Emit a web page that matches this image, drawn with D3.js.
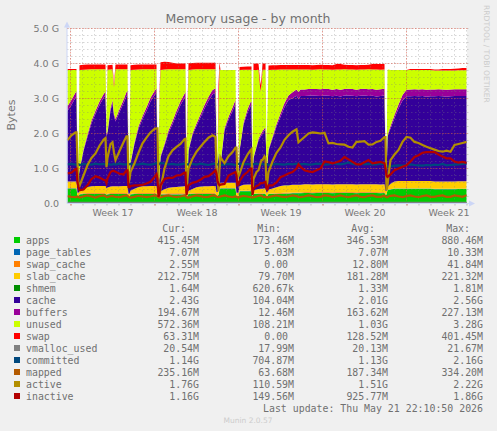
<!DOCTYPE html>
<html>
<head>
<meta charset="utf-8">
<title>Memory usage - by month</title>
<script src="https://cdn.jsdelivr.net/npm/d3@7"></script>
<style>
  html, body { margin: 0; padding: 0; background: #f0f0f0; }
  svg { display: block; }
  text { white-space: pre; }
</style>
</head>
<body>
<div id="chart"></div>
<script>
// hours since the start of week 17, one line per stretch between reboots
var sampleHours = [
  -6,2,10,12,
  14,16,
  18,26,34,42,50,58,66,70,
  72,
  74,80,84,87,90,98,106,112,114,
  116,118,
  120,128,136,144,152,160,168,172,
  174,176,178,
  180,188,196,204,212,220,228,230,
  232,234,
  236,244,252,260,268,276,284,290,
  292,294,296,298,
  300,308,316,324,330,
  332,334,336,
  338,346,354,360,362,
  364,
  366,372,376,380,382,384,388,390,
  392,394,
  396,404,412,420,428,436,444,452,456,460,
  468,476,484,492,500,508,516,524,532,540,548,556,564,572,580,588,596,604,612,620,628,
  630,632,
  634,636,640,648,656,664,672,
  680,688,696,704,712,720,728,736,744,752,760,768,776,784,792
];

// all values in M
var apps = [
  430,430,430,430,
  200,200,
  260,270,270,270,270,270,270,270,
  240,
  260,270,270,270,270,270,270,270,270,
  180,180,
  260,270,270,270,270,270,270,270,
  200,200,250,
  260,260,260,260,260,260,260,260,
  150,220,
  270,270,270,270,270,270,270,270,
  200,200,250,400,
  430,430,430,430,430,
  200,200,200,
  350,350,350,350,350,
  200,
  270,270,270,270,270,270,270,270,
  200,220,
  270,270,270,270,280,280,290,290,290,290,
  300,300,295,300,305,300,300,295,300,300,305,300,300,295,300,300,305,300,300,295,300,
  250,250,
  380,390,400,420,420,420,420,
  420,420,420,420,420,420,410,410,410,410,410,410,415,415,415
];
var pageTables = [
  7,7,7,7,
  6,6,
  6,6,7,7,7,7,7,7,
  6,
  7,7,7,7,7,7,7,7,7,
  6,6,
  6,6,7,7,7,7,7,7,
  6,5,5,
  6,6,7,7,7,7,7,7,
  5,6,
  6,6,7,7,7,7,7,7,
  6,6,6,7,
  8,8,8,8,8,
  6,5,6,
  7,7,7,7,7,
  5,
  6,6,6,7,7,7,7,7,
  6,6,
  7,7,7,7,7,7,7,7,7,7,
  7,7,7,7,7,7,7,7,7,7,7,7,7,7,7,7,7,7,7,7,7,
  6,6,
  7,7,7,7,7,7,7,
  7,7,7,7,7,7,7,7,7,7,7,7,7,7,7
];
var swapCache = [
  3,3,3,3,
  0,0,
  5,15,20,25,25,25,25,25,
  0,
  10,20,25,25,25,25,25,25,25,
  0,0,
  5,15,20,25,25,25,25,25,
  0,0,5,
  10,20,25,25,25,25,25,25,
  0,5,
  10,20,25,25,25,25,25,25,
  0,0,5,5,
  3,3,3,3,3,
  0,0,0,
  5,10,15,15,15,
  0,
  5,10,15,15,15,15,15,15,
  0,0,
  5,10,15,20,20,20,20,20,20,20,
  20,20,20,20,20,20,20,20,20,20,20,20,20,20,20,20,20,20,20,20,20,
  0,0,
  3,3,3,3,3,3,3,
  3,3,3,3,3,3,3,3,3,3,3,3,3,3,3
];
var slabCache = [
  190,190,190,190,
  100,100,
  80,130,170,190,200,200,200,200,
  180,
  180,190,190,190,190,190,200,200,200,
  90,90,
  90,130,170,190,190,200,200,200,
  100,80,90,
  70,120,160,170,180,190,200,200,
  80,80,
  80,120,160,180,190,190,200,200,
  120,120,120,100,
  150,150,150,150,150,
  100,100,100,
  130,170,170,170,170,
  90,
  90,110,120,130,130,130,140,140,
  100,100,
  110,140,170,200,210,210,220,220,220,220,
  220,220,220,220,220,220,220,220,220,220,220,220,220,220,220,220,220,220,220,220,220,
  100,100,
  100,100,150,200,210,210,210,
  210,210,210,210,210,210,210,210,210,210,210,210,212,212,212
];
var shmem = [
  1,1,1,1,
  1,1,
  1,1,1,1,1,1,1,1,
  1,
  1,1,1,1,1,1,1,1,1,
  1,1,
  1,1,1,1,1,1,1,1,
  1,1,1,
  1,1,1,1,1,1,1,1,
  1,1,
  1,1,1,1,1,1,1,1,
  1,1,1,1,
  1,1,1,1,1,
  1,1,1,
  1,1,1,1,1,
  1,
  1,1,1,1,1,1,1,1,
  1,1,
  1,1,1,1,1,1,1,1,1,1,
  1,1,1,1,1,1,1,1,1,1,1,1,1,1,1,1,1,1,1,1,1,
  1,1,
  1,1,1,1,1,1,1,
  2,2,2,2,2,2,2,2,2,2,2,2,2,2,2
];
var cache = [
  2020,2190,2390,2410,
  500,400,
  590,1080,1440,1800,2060,2310,2510,2590,
  1500,
  1540,2170,2370,2000,1850,2120,2360,2560,2590,
  500,400,
  780,1280,1670,1920,2160,2410,2590,2660,
  800,300,400,
  970,1240,1560,1800,2080,2330,2520,2570,
  300,300,
  1130,1540,1750,1980,2220,2440,2610,2660,
  1200,500,1100,400,
  500,1500,1800,2050,2250,
  700,300,300,
  1000,1710,2060,2240,2260,
  300,
  920,1200,1390,1480,1530,1580,1650,1670,
  800,800,
  1120,1420,1740,1980,2240,2440,2470,2540,2450,2530,
  2520,2530,2540,2530,2520,2540,2530,2520,2530,2510,2530,2540,2530,2520,2530,2540,2520,2530,2510,2530,2540,
  800,300,
  1400,1500,1580,1810,2070,2300,2420,
  2420,2430,2420,2430,2410,2420,2430,2440,2430,2420,2430,2440,2430,2430,2430
];
var buffers = [
  130,140,150,150,
  30,20,
  20,40,60,80,90,100,110,110,
  60,
  60,80,90,70,70,80,100,120,120,
  30,30,
  30,50,70,80,100,110,120,120,
  40,20,30,
  30,50,70,90,100,110,120,120,
  20,30,
  30,50,70,90,100,120,130,130,
  60,40,30,30,
  30,60,80,100,120,
  40,20,20,
  30,60,90,110,110,
  20,
  20,40,50,60,60,60,70,70,
  40,30,
  30,50,70,90,110,130,170,180,200,190,
  190,190,190,190,190,190,190,190,190,190,190,190,190,190,190,190,190,190,190,190,190,
  50,20,
  30,40,70,90,120,160,190,
  195,195,195,195,195,195,195,195,195,195,195,195,195,195,195
];
var unused = [
  1030,850,640,620,
  400,300,
  2850,2280,1860,1460,1180,920,710,630,
  300,
  1760,1090,880,750,1420,1140,870,650,620,
  500,400,
  2640,2070,1620,1340,1080,810,620,550,
  300,300,2200,
  2470,2130,1750,1480,1180,910,700,650,
  600,1800,
  2290,1820,1550,1280,1020,780,590,540,
  500,400,1200,2890,
  2690,1660,1340,1070,850,
  300,300,400,
  2290,1510,1130,930,910,
  400,
  2500,2180,1970,1240,1390,1760,1670,1650,
  500,1500,
  2270,1920,1550,1260,960,740,650,570,640,570,
  570,560,550,560,570,550,560,570,560,580,560,550,560,570,560,550,570,560,580,560,550,
  400,400,
  1890,1790,1600,1280,980,710,560,
  555,545,555,545,565,555,545,535,545,555,545,535,545,545,545
];
var swap = [
  30,30,30,30,
  0,0,
  140,140,140,140,140,140,140,140,
  0,
  130,130,130,100,140,140,140,140,140,
  0,0,
  140,140,140,140,140,140,140,140,
  0,0,200,
  220,220,210,190,170,170,170,170,
  100,300,
  190,190,190,190,190,190,190,190,
  0,0,700,200,
  0,0,0,0,0,
  0,0,0,
  90,90,90,90,90,
  0,
  180,180,180,180,200,180,180,180,
  0,0,
  130,130,130,130,130,130,130,130,130,130,
  130,130,130,130,130,130,130,130,160,160,130,130,130,130,130,130,130,160,160,160,160,
  0,0,
  0,0,0,0,0,0,0,
  30,30,30,30,30,30,30,30,40,40,40,50,50,60,63
];
var vmallocUsed = [
  20,20,20,20,
  20,20,
  20,20,20,20,20,20,20,20,
  20,
  20,20,20,20,20,20,20,20,20,
  20,20,
  20,20,20,20,20,20,20,20,
  20,20,20,
  20,20,20,20,20,20,20,20,
  20,20,
  20,20,20,20,20,20,20,20,
  20,20,20,20,
  20,20,20,20,20,
  20,20,20,
  20,20,20,20,20,
  20,
  20,20,20,20,20,20,20,20,
  20,20,
  20,20,20,20,20,20,20,20,20,20,
  20,20,20,20,20,20,20,20,20,20,20,20,20,20,20,20,20,20,20,20,20,
  20,20,
  20,20,20,20,20,20,20,
  20,20,20,20,20,20,20,20,20,20,20,20,20,20,20
];
var committed = [
  1120,1130,1110,1120,
  1110,1120,
  1100,1130,1120,1110,1140,1120,1130,1110,
  1120,
  1130,1110,1120,1130,1110,1140,1120,1120,1130,
  1110,1120,
  1130,1110,1120,1140,1120,1110,1130,1150,
  1170,1130,1120,
  1160,1140,1120,1130,1110,1120,1140,1150,
  1130,1120,
  1120,1130,1110,1140,1120,1100,1130,1140,
  1120,1110,1130,1120,
  1100,1110,1130,1120,1100,
  1110,1120,1130,
  1140,1120,1130,1110,1120,
  1130,
  1120,1140,1130,1110,1120,1130,1110,1120,
  1130,1120,
  1100,1110,1130,1120,1110,1130,1120,1140,1130,1120,
  1130,1110,1120,1140,1130,1110,1120,1150,1130,1120,1140,1170,1130,1110,1140,1120,1130,1110,1120,1140,1130,
  1100,1080,
  1060,1050,1060,1080,1090,1080,1100,
  1120,1100,1090,1080,1100,1090,1110,1100,1130,1090,1100,1110,1120,1130,1140
];
var mapped = [
  210,190,180,190,
  200,190,
  170,200,230,200,170,210,230,200,
  190,
  180,210,220,200,190,180,210,230,220,
  190,180,
  170,190,220,200,180,200,230,220,
  200,180,170,
  180,210,230,200,180,200,230,210,
  190,170,
  170,200,230,210,180,190,230,220,
  200,190,180,190,
  200,230,200,180,210,
  190,180,170,
  190,220,200,180,190,
  170,
  180,200,220,230,220,200,180,190,
  190,170,
  180,210,230,200,180,200,230,210,190,180,
  200,230,210,180,190,230,220,180,200,230,200,180,210,230,190,180,220,230,190,190,220,
  200,180,
  180,200,220,230,200,180,210,
  230,200,180,210,230,190,190,220,230,190,190,230,210,190,235
];
var active = [
  1810,1950,2030,2030,
  1200,520,
  500,800,1100,1300,1430,1650,1820,1870,
  1040,
  1300,1700,1750,1450,1240,1500,1750,1920,1920,
  580,700,
  900,1150,1450,1720,1880,2030,2130,2150,
  2150,550,180,
  430,1000,1350,1520,1620,1700,1840,1850,
  300,700,
  1000,1280,1480,1620,1760,1880,1950,1900,
  950,750,350,1000,
  1320,1150,1350,1470,1600,
  1600,750,780,
  850,1180,1400,1520,1550,
  300,
  700,900,950,1150,1240,1240,1350,1300,
  470,650,
  900,1200,1450,1600,1820,1950,2050,2120,1750,1800,
  1900,2000,2030,2020,2000,2020,1720,1730,1700,1690,1680,1620,1600,1760,1770,1780,1680,1690,1760,1790,1900,
  1900,380,
  500,800,1240,1400,1530,1760,1900,
  1880,1760,1730,1670,1620,1580,1540,1500,1480,1510,1480,1670,1700,1730,1760
];
var inactive = [
  860,880,980,990,
  600,470,
  380,400,520,700,780,740,680,660,
  580,
  720,900,930,930,910,850,830,950,950,
  470,470,
  500,520,520,530,570,620,760,840,
  700,190,300,
  520,700,730,730,800,810,880,880,
  240,400,
  520,590,620,680,760,780,870,950,
  850,650,560,520,
  540,560,800,860,900,
  800,520,540,
  640,810,900,1000,1000,
  240,
  420,500,520,580,580,580,610,620,
  420,400,
  520,520,600,750,800,860,900,1000,1120,1050,
  950,920,900,950,1000,1200,1180,1150,1180,1220,1330,1260,1190,1120,1120,1180,1240,1150,1170,1190,1150,
  1000,800,
  760,780,830,950,1000,1050,1090,
  1200,1330,1380,1450,1470,1470,1470,1400,1340,1290,1290,1200,1170,1190,1160
];

var seriesNames = ['apps','page_tables','swap_cache','slab_cache','shmem','cache','buffers','unused','swap','vmalloc_used','committed','mapped','active','inactive'];
var seriesColors = ['#00CC00','#0066B3','#FF8000','#FFCC00','#008F00','#330099','#990099','#CCFF00','#FF0000','#808080','#00487D','#B35A00','#B38F00','#B30000'];
var curLabels = ['415.45M','7.07M','2.55M','212.75M','1.64M','2.43G','194.67M','572.36M','63.31M','20.54M','1.14G','235.16M','1.76G','1.16G'];
var minLabels = ['173.46M','5.03M','0.00 ','79.70M','620.67k','104.04M','12.46M','108.21M','0.00 ','17.99M','704.87M','63.68M','110.59M','149.56M'];
var avgLabels = ['346.53M','7.07M','12.80M','181.28M','1.33M','2.01G','163.62M','1.03G','128.52M','20.13M','1.13G','187.34M','1.51G','925.77M'];
var maxLabels = ['880.46M','10.33M','41.84M','221.32M','1.81M','2.56G','227.13M','3.28G','401.45M','21.67M','2.16G','334.20M','2.22G','1.86G'];

var areaSeries = [apps, pageTables, swapCache, slabCache, shmem, cache, buffers, unused, swap];
var lineSeries = [vmallocUsed, committed, mapped, active, inactive];

var yTicks = [0, 1000, 2000, 3000, 4000, 5000];
var yTickLabels = ['0.0', '1.0 G', '2.0 G', '3.0 G', '4.0 G', '5.0 G'];
var yMinorTicks = d3.range(0, 5001, 200);
var dayTicks = d3.range(0, 793, 24);
var weekTicks = [0, 168, 336, 504, 672];
var weekCentres = [84, 252, 420, 588, 756];
var weekLabels = ['Week 17', 'Week 18', 'Week 19', 'Week 20', 'Week 21'];

var width = 497, height = 431;
var svg = d3.select('#chart').append('svg')
  .attr('width', width)
  .attr('height', height)
  .style('font-family', '"DejaVu Sans", sans-serif');

var x = d3.scaleLinear().domain([-7, 793]).range([67, 467]);
var y = d3.scaleLinear().domain([0, 5000]).range([203.5, 28.5]);

svg.append('rect')
  .attr('x', x.range()[0]).attr('y', y.range()[1])
  .attr('width', x.range()[1] - x.range()[0])
  .attr('height', y.range()[0] - y.range()[1])
  .attr('fill', '#fff');

// stacked areas
var keys = d3.range(areaSeries.length);
var rows = sampleHours.map(function(h, i) {
  var row = { hour: h };
  keys.forEach(function(k) { row[k] = areaSeries[k][i]; });
  return row;
});
var layers = d3.stack().keys(keys)(rows);
var area = d3.area()
  .x(d => x(d.data.hour))
  .y0(d => y(d[0]))
  .y1(d => y(d[1]));

svg.append('g').selectAll('path')
  .data(layers)
  .enter().append('path')
  .attr('d', area)
  .attr('fill', d => seriesColors[d.key]);

// grid sits on top of the areas, the dots show through in the reference
var grid = svg.append('g').attr('fill', 'none');
grid.selectAll('.minor-y').data(yMinorTicks)
  .enter().append('line')
  .attr('x1', x.range()[0]).attr('x2', x.range()[1] + 2)
  .attr('y1', d => y(d)).attr('y2', d => y(d))
  .attr('stroke', 'rgba(128,128,128,0.32)')
  .attr('stroke-dasharray', '1.5,2.5');
grid.selectAll('.minor-x').data(dayTicks)
  .enter().append('line')
  .attr('x1', d => x(d)).attr('x2', d => x(d))
  .attr('y1', y.range()[0]).attr('y2', y.range()[1])
  .attr('stroke', 'rgba(128,128,128,0.32)')
  .attr('stroke-dasharray', '1.5,2.5');
grid.selectAll('.major-y').data(yTicks)
  .enter().append('line')
  .attr('x1', x.range()[0]).attr('x2', x.range()[1] + 2)
  .attr('y1', d => y(d)).attr('y2', d => y(d))
  .attr('stroke', 'rgba(224,80,62,0.5)')
  .attr('stroke-dasharray', '1.5,1.5');
grid.selectAll('.major-x').data(weekTicks)
  .enter().append('line')
  .attr('x1', d => x(d)).attr('x2', d => x(d))
  .attr('y1', y.range()[0]).attr('y2', y.range()[1])
  .attr('stroke', 'rgba(224,80,62,0.5)')
  .attr('stroke-dasharray', '1.5,1.5');

// lines
var line = d3.line()
  .x((d, i) => x(sampleHours[i]))
  .y(d => y(d));

svg.append('g').attr('fill', 'none').attr('stroke-width', 2.2)
  .selectAll('path')
  .data(lineSeries)
  .enter().append('path')
  .attr('d', line)
  .attr('stroke', (d, i) => seriesColors[areaSeries.length + i]);

// axes
var xDays = d3.axisBottom(x).tickValues(dayTicks).tickSize(2).tickFormat('');
svg.append('g').attr('transform', 'translate(0,' + y(0) + ')').call(xDays)
  .call(g => g.select('.domain').remove())
  .selectAll('line').attr('stroke', '#bbb');

var xWeeks = d3.axisBottom(x).tickValues(weekTicks).tickSize(2).tickFormat('');
svg.append('g').attr('transform', 'translate(0,' + y(0) + ')').call(xWeeks)
  .call(g => g.select('.domain').remove())
  .selectAll('line').attr('stroke', '#e0806e');

var xLabels = d3.axisBottom(x).tickValues(weekCentres).tickSize(0)
  .tickPadding(5.5).tickFormat((d, i) => weekLabels[i]);
svg.append('g').attr('transform', 'translate(0,' + y(0) + ')').call(xLabels)
  .call(g => g.select('.domain').remove())
  .selectAll('text')
  .attr('font-size', '9.5px')
  .attr('font-family', '"DejaVu Sans", sans-serif')
  .attr('fill', '#777');

var yAxis = d3.axisLeft(y).tickValues(yTicks).tickSize(0)
  .tickPadding(8).tickFormat((d, i) => yTickLabels[i]);
svg.append('g').attr('transform', 'translate(' + x.range()[0] + ',0)').call(yAxis)
  .call(g => g.select('.domain').remove())
  .selectAll('text')
  .attr('font-size', '9.5px')
  .attr('font-family', '"DejaVu Sans", sans-serif')
  .attr('fill', '#777');

var axisColor = '#ccd6f6';
var axisX0 = x.range()[0], axisX1 = x.range()[1], axisY0 = y.range()[0], axisY1 = y.range()[1];
svg.append('line').attr('x1', axisX0).attr('x2', axisX1 + 2).attr('y1', axisY0).attr('y2', axisY0).attr('stroke', axisColor);
svg.append('line').attr('x1', axisX0).attr('x2', axisX0).attr('y1', axisY0).attr('y2', axisY1 - 2).attr('stroke', axisColor);
svg.append('path')
  .attr('d', d3.line()([[axisX0 - 3, axisY1 - 1], [axisX0 + 3, axisY1 - 1], [axisX0, axisY1 - 7]]) + 'Z')
  .attr('fill', axisColor);
svg.append('path')
  .attr('d', d3.line()([[axisX1 + 2, axisY0 - 3], [axisX1 + 2, axisY0 + 3], [axisX1 + 8, axisY0]]) + 'Z')
  .attr('fill', axisColor);

// titles
svg.append('text')
  .attr('x', 248).attr('y', 23)
  .attr('text-anchor', 'middle')
  .attr('font-size', '12.5px')
  .attr('fill', '#707070')
  .text('Memory usage - by month');

svg.append('text')
  .attr('transform', 'translate(15,115) rotate(-90)')
  .attr('text-anchor', 'middle')
  .attr('font-size', '11px')
  .attr('fill', '#777')
  .text('Bytes');

svg.append('text')
  .attr('transform', 'translate(484,5) rotate(90)')
  .attr('font-size', '7.6px')
  .attr('fill', '#ccc')
  .text('RRDTOOL / TOBI OETIKER');

// legend
var mono = '"DejaVu Sans Mono", monospace';
var legendTop = 240, legendStep = 12;
var columns = [
  { head: 'Cur:', end: 199, labels: curLabels },
  { head: 'Min:', end: 294, labels: minLabels },
  { head: 'Avg:', end: 388, labels: avgLabels },
  { head: 'Max:', end: 483, labels: maxLabels }
];

var legend = svg.append('g')
  .attr('font-family', mono)
  .attr('font-size', '9.9px')
  .attr('fill', '#707070');

legend.selectAll('.head').data(columns)
  .enter().append('text')
  .attr('x', d => d.end - 13)
  .attr('y', legendTop - 12 + 3.5)
  .attr('text-anchor', 'end')
  .text(d => d.head);

var legendRows = legend.selectAll('.row').data(seriesNames)
  .enter().append('g')
  .attr('transform', (d, i) => 'translate(0,' + (legendTop + i * legendStep) + ')');

legendRows.append('rect')
  .attr('x', 14).attr('y', -3)
  .attr('width', 6).attr('height', 6)
  .attr('fill', (d, i) => seriesColors[i]);

legendRows.append('text')
  .attr('x', 26).attr('y', 3.5)
  .text(d => d);

columns.forEach(function(col) {
  legendRows.append('text')
    .attr('x', col.end).attr('y', 3.5)
    .attr('text-anchor', 'end')
    .text((d, i) => col.labels[i]);
});

legend.append('text')
  .attr('x', 483).attr('y', legendTop + 14 * legendStep + 3.5)
  .attr('text-anchor', 'end')
  .text('Last update: Thu May 21 22:10:50 2026');

svg.append('text')
  .attr('x', 248).attr('y', 423)
  .attr('text-anchor', 'middle')
  .attr('font-size', '7.5px')
  .attr('fill', '#ccc')
  .text('Munin 2.0.57');
</script>
</body>
</html>
